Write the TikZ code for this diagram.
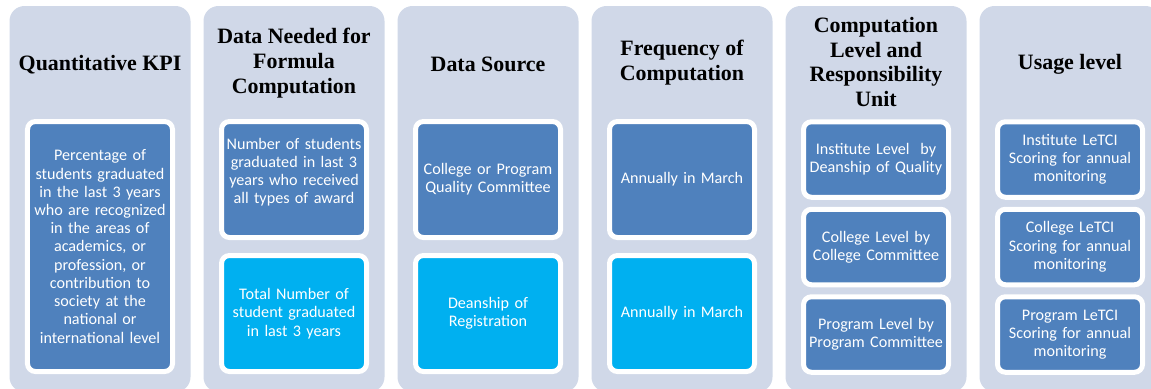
\documentclass[tikz,border=0pt]{standalone}
\usepackage{fontspec}
\setmainfont{Carlito}
\newfontfamily\headfont{Liberation Serif}

\definecolor{colbg}{HTML}{D0D8E8}
\definecolor{darkbox}{HTML}{4F81BD}
\definecolor{lightbox}{HTML}{00B0F0}

\tikzset{
  column/.style={fill=colbg, rounded corners=15bp},
  head/.style={font=\headfont\bfseries\fontsize{22}{25}\selectfont, align=center, text=black},
  item/.style={draw=white, line width=5bp, rounded corners=8bp, minimum width=145bp,
    text=white, align=center, text width=140bp, inner sep=1bp,
    font=\fontsize{16.2}{18.3}\selectfont},
  dark/.style={item, fill=darkbox},
  light/.style={item, fill=lightbox}
}

\begin{document}
\begin{tikzpicture}[x=1bp, y=-1bp]
        \useasboundingbox (0,0) rectangle (1151,388);
        \clip (0,0) rectangle (1151,388);
        % grey columns
        \foreach \cx in {100,294,488,682,876,1070}
          \fill[column] (\cx-90.5,6) rectangle (\cx+90.5,392);
        % headers
        \node[head] (hkpi) at (100,65) {Quantitative KPI};
        \node[head] (hneed) at (294,63) {Data Needed for\\Formula\\Computation};
        \node[head] (hsrc) at (488,64) {Data Source};
        \node[head] (hfreq) at (682,63) {Frequency of\\Computation};
        \node[head] (hlvl) at (876,62) {Computation\\Level and\\Responsibility\\Unit};
        \node[head] (huse) at (1070,64) {Usage level};
        % column 1
        \node[dark, minimum height=250bp] (kpi) at (100,246.5) {Percentage of\\students graduated\\in the last 3 years\\who are recognized\\in the areas of\\academics, or\\profession, or\\contribution to\\society at the\\national or\\international level};
        % column 2
        \node[dark, minimum height=116bp, text depth=72bp] (need1) at (294,179.5) {Number of students\\graduated in last 3\\years who received\\all types of award};
        \node[light, minimum height=116bp] (need2) at (294,313.5) {Total Number of\\student graduated\\in last 3 years};
        % column 3
        \node[dark, minimum height=116bp] (src1) at (488,179.5) {College or Program\\Quality Committee};
        \node[light, minimum height=116bp] (src2) at (488,313.5) {Deanship of\\Registration};
        % column 4
        \node[dark, minimum height=116bp] (freq1) at (682,179.5) {Annually in March};
        \node[light, minimum height=116bp] (freq2) at (682,313.5) {Annually in March};
        % column 5
        \node[dark, minimum height=75.5bp] (lvl1) at (876,159.5) {Institute Level\ \ by\\Deanship of Quality};
        \node[dark, minimum height=75.5bp] (lvl2) at (876,247) {College Level by\\College Committee};
        \node[dark, minimum height=75.5bp] (lvl3) at (876,334.5) {Program Level by\\Program Committee};
        % column 6
        \node[dark, minimum height=75.5bp] (use1) at (1070,159.5) {Institute LeTCI\\Scoring for annual\\monitoring};
        \node[dark, minimum height=75.5bp] (use2) at (1070,247) {College LeTCI\\Scoring for annual\\monitoring};
        \node[dark, minimum height=75.5bp] (use3) at (1070,334.5) {Program LeTCI\\Scoring for annual\\monitoring};
\end{tikzpicture}
\end{document}
